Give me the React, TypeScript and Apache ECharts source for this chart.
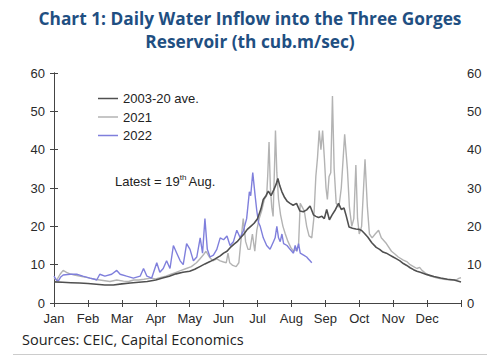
import React, { useEffect, useRef } from "react";
import * as echarts from "echarts";

const monthLabels = ["Jan", "Feb", "Mar", "Apr", "May", "Jun", "Jul", "Aug", "Sep", "Oct", "Nov", "Dec"];
const yTicks = [0, 10, 20, 30, 40, 50, 60];

// x = month position (0 = 1 Jan, 12 = 31 Dec), y = th cub.m/sec
const ave0320: [number, number][] = [
  [0, 5.5], [0.25, 5.4], [0.5, 5.3], [0.75, 5.2], [1.0, 5.1], [1.25, 4.9], [1.5, 4.7], [1.75, 4.7],
  [2.0, 5.0], [2.25, 5.2], [2.5, 5.4], [2.75, 5.6], [3.0, 6.0], [3.2, 6.5], [3.4, 7.0], [3.6, 7.6],
  [3.8, 8.0], [4.0, 8.3], [4.15, 8.8], [4.3, 9.5], [4.45, 10.2], [4.6, 10.8], [4.75, 11.5], [4.9, 12.3],
  [5.0, 13.0], [5.1, 13.5], [5.2, 14.5], [5.3, 15.3], [5.4, 16.0], [5.5, 17.0], [5.6, 18.0], [5.7, 19.2],
  [5.8, 20.0], [5.9, 20.8], [6.0, 22.0], [6.1, 24.5], [6.17, 27.0], [6.25, 28.0], [6.32, 29.2], [6.4, 28.0],
  [6.48, 29.5], [6.55, 31.0], [6.6, 32.5], [6.66, 30.5], [6.72, 29.0], [6.8, 27.5], [6.88, 26.5], [6.96, 26.0],
  [7.05, 25.5], [7.15, 26.0], [7.25, 24.0], [7.35, 23.8], [7.45, 24.3], [7.55, 25.3], [7.65, 23.0], [7.72, 22.6],
  [7.8, 22.3], [7.9, 22.6], [7.97, 22.0], [8.04, 24.4], [8.12, 21.7], [8.2, 23.0], [8.3, 24.4], [8.39, 26.0],
  [8.47, 24.4], [8.55, 24.8], [8.62, 22.6], [8.7, 19.8], [8.8, 19.5], [8.9, 19.3], [9.0, 19.2], [9.07, 18.9],
  [9.15, 18.2], [9.25, 17.2], [9.37, 15.7], [9.5, 14.5], [9.6, 14.0], [9.7, 13.3], [9.8, 13.0], [9.9, 12.5],
  [10.0, 12.0], [10.1, 11.5], [10.2, 11.0], [10.3, 10.3], [10.4, 9.8], [10.5, 9.2], [10.6, 8.7], [10.7, 8.3],
  [10.8, 8.0], [10.9, 7.7], [11.0, 7.4], [11.2, 6.9], [11.4, 6.5], [11.6, 6.2], [11.8, 6.0], [12.0, 5.5],
];

const y2021: [number, number][] = [
  [0, 6.5], [0.08, 6.0], [0.18, 7.5], [0.27, 8.5], [0.37, 8.0], [0.47, 7.6], [0.6, 7.3], [0.75, 7.0],
  [0.9, 6.8], [1.05, 6.5], [1.2, 6.2], [1.35, 6.0], [1.5, 5.8], [1.65, 5.6], [1.85, 6.0], [2.05, 5.7],
  [2.2, 5.6], [2.35, 6.0], [2.5, 6.0], [2.65, 6.2], [2.85, 6.5], [3.0, 6.3], [3.15, 6.7], [3.3, 7.0],
  [3.45, 7.5], [3.6, 8.0], [3.75, 8.5], [3.9, 9.0], [4.05, 9.5], [4.2, 10.5], [4.3, 11.5], [4.4, 12.5],
  [4.48, 13.5], [4.58, 12.0], [4.68, 11.0], [4.8, 11.5], [4.9, 11.0], [5.0, 10.7], [5.08, 10.5], [5.13, 13.0],
  [5.18, 10.5], [5.27, 9.8], [5.37, 9.5], [5.45, 10.5], [5.52, 17.0], [5.58, 22.0], [5.65, 16.0], [5.72, 14.0],
  [5.78, 14.0], [5.85, 18.0], [5.92, 13.5], [5.98, 19.0], [6.05, 22.0], [6.12, 24.0], [6.2, 27.0], [6.27, 28.0],
  [6.3, 33.0], [6.34, 42.0], [6.38, 30.0], [6.42, 25.0], [6.46, 22.6], [6.5, 35.0], [6.53, 45.0], [6.57, 34.0],
  [6.62, 27.0], [6.68, 23.0], [6.75, 20.0], [6.82, 18.0], [6.9, 16.0], [6.98, 14.5], [7.06, 13.5], [7.15, 14.0],
  [7.21, 15.0], [7.26, 26.0], [7.32, 25.0], [7.38, 24.0], [7.45, 20.0], [7.52, 17.5], [7.6, 17.0], [7.66, 22.0],
  [7.72, 33.0], [7.77, 38.0], [7.82, 45.0], [7.87, 40.0], [7.92, 45.0], [7.97, 38.0], [8.02, 30.0], [8.06, 27.0],
  [8.11, 33.0], [8.16, 34.0], [8.21, 54.0], [8.26, 35.0], [8.32, 26.0], [8.4, 25.0], [8.47, 30.0], [8.57, 44.0],
  [8.65, 35.0], [8.71, 25.0], [8.78, 20.0], [8.84, 22.0], [8.9, 36.0], [8.95, 22.0], [9.0, 18.0], [9.07, 20.0],
  [9.17, 37.5], [9.24, 25.0], [9.3, 18.0], [9.38, 17.0], [9.47, 18.0], [9.57, 19.0], [9.65, 17.0], [9.8, 15.5],
  [9.95, 13.5], [10.05, 12.8], [10.15, 12.0], [10.3, 11.2], [10.4, 10.8], [10.5, 10.0], [10.6, 9.5], [10.7, 9.0],
  [10.78, 9.3], [10.85, 8.5], [10.95, 7.8], [11.1, 7.0], [11.3, 6.5], [11.5, 6.2], [11.7, 6.0], [11.85, 6.0],
  [11.95, 6.5], [12.0, 6.6],
];

const y2022: [number, number][] = [
  [0, 7.0], [0.07, 6.0], [0.13, 5.8], [0.2, 6.8], [0.27, 7.3], [0.47, 7.5], [0.67, 7.5], [0.85, 7.0],
  [1.06, 6.5], [1.2, 6.2], [1.26, 6.0], [1.35, 7.5], [1.5, 7.0], [1.7, 7.5], [1.85, 8.5], [1.95, 7.5],
  [2.14, 7.0], [2.34, 6.5], [2.54, 7.0], [2.64, 9.0], [2.74, 7.0], [2.88, 6.5], [3.03, 10.5], [3.12, 8.0],
  [3.22, 9.0], [3.32, 11.0], [3.42, 9.0], [3.52, 15.0], [3.62, 13.0], [3.72, 11.0], [3.81, 10.0], [3.91, 15.5],
  [4.01, 14.0], [4.11, 11.0], [4.21, 12.0], [4.31, 17.0], [4.38, 13.0], [4.45, 22.0], [4.52, 14.0], [4.6, 12.0],
  [4.7, 12.5], [4.8, 14.0], [4.9, 17.0], [5.0, 16.5], [5.1, 17.5], [5.19, 15.0], [5.29, 16.0], [5.39, 19.0],
  [5.49, 17.0], [5.59, 19.0], [5.68, 22.0], [5.76, 29.0], [5.8, 28.0], [5.86, 34.0], [5.93, 28.0], [5.98, 24.0],
  [6.03, 21.0], [6.08, 20.0], [6.17, 17.0], [6.27, 15.0], [6.37, 14.0], [6.47, 16.0], [6.52, 17.0], [6.57, 20.0],
  [6.62, 17.0], [6.67, 16.0], [6.72, 18.0], [6.77, 15.5], [6.87, 15.0], [6.96, 14.0], [7.06, 13.0], [7.11, 15.0],
  [7.16, 13.5], [7.21, 15.5], [7.26, 13.0], [7.36, 12.5], [7.45, 12.0], [7.5, 11.5], [7.55, 11.0], [7.6, 10.5],
];

const seriesNames = ["2003-20 ave.", "2021", "2022"];
const seriesColors = ["#505050", "#b3b3b3", "#7f7fdc"];

export default function App() {
  const ref = useRef<HTMLDivElement>(null);
  useEffect(() => {
    if (!ref.current) return;
    const chart = echarts.init(ref.current, undefined, { renderer: "svg" });
    const axisColor = "#444";
    const labelStyle = { color: "#2a2a2a", fontFamily: "Liberation Sans, Arial, sans-serif", fontSize: 13 };
    const datasets = [ave0320, y2021, y2022];
    chart.setOption({
      animation: false,
      backgroundColor: "#ffffff",
      title: {
        text: "Chart 1: Daily Water Inflow into the Three Gorges\nReservoir (th cub.m/sec)",
        left: "center",
        top: 2,
        textStyle: {
          color: "#1f4f82",
          fontFamily: "Open Sans, sans-serif",
          fontWeight: "bold",
          fontSize: 17.3,
          lineHeight: 23,
          align: "center",
        },
      },
      legend: {
        orient: "vertical",
        left: 93,
        top: 87,
        itemWidth: 20,
        itemHeight: 1.5,
        itemGap: 5.5,
        icon: "rect",
        data: seriesNames,
        textStyle: { ...labelStyle, lineHeight: 13, color: "#222" },
      },
      grid: { left: 54, right: 39, top: 73, bottom: 57, containLabel: false },
      xAxis: [
        {
          type: "value",
          min: 0,
          max: 12,
          interval: 1,
          position: "bottom",
          splitLine: { show: false },
          axisLine: { show: true, lineStyle: { color: axisColor, width: 1 } },
          axisTick: { show: true, length: 4, lineStyle: { color: axisColor } },
          axisLabel: {
            ...labelStyle,
            margin: 9,
            formatter: (v: number) => (v >= 0 && v < 12 ? monthLabels[Math.round(v)] : ""),
          },
        },
        {
          type: "value",
          min: 0,
          max: 12,
          interval: 1,
          position: "bottom",
          splitLine: { show: false },
          axisLine: { show: false },
          axisTick: { show: true, inside: true, length: 3, lineStyle: { color: axisColor } },
          axisLabel: { show: false },
        },
      ],
      yAxis: [
        {
          type: "value",
          min: yTicks[0],
          max: yTicks[yTicks.length - 1],
          interval: 10,
          position: "left",
          splitLine: { show: false },
          axisLine: { show: true, lineStyle: { color: axisColor, width: 1 } },
          axisTick: { show: true, length: 4, lineStyle: { color: axisColor } },
          axisLabel: { ...labelStyle, margin: 9 },
        },
        {
          type: "value",
          min: yTicks[0],
          max: yTicks[yTicks.length - 1],
          interval: 10,
          position: "right",
          splitLine: { show: false },
          axisLine: { show: true, lineStyle: { color: axisColor, width: 1 } },
          axisTick: { show: true, length: 4, lineStyle: { color: axisColor } },
          axisLabel: { ...labelStyle, margin: 6 },
        },
      ],
      series: seriesNames.map((name, i) => ({
        name,
        type: "line",
        xAxisIndex: 0,
        yAxisIndex: 0,
        data: datasets[i],
        showSymbol: false,
        symbol: "none",
        z: i === 0 ? 5 : i === 1 ? 3 : 4,
        color: seriesColors[i],
        lineStyle: { color: seriesColors[i], width: i === 0 ? 1.6 : 1.4 },
      })),
      graphic: [
        {
          type: "text",
          left: 115,
          top: 173,
          style: {
            text: "{a|Latest = 19}{s|th }{a|Aug.}",
            rich: {
              a: { fontFamily: "Liberation Sans, Arial, sans-serif", fontSize: 13, fill: "#222", lineHeight: 16 },
              s: { fontFamily: "Liberation Sans, Arial, sans-serif", fontSize: 8, fill: "#222", verticalAlign: "top", lineHeight: 16 },
            },
          },
        },
        {
          type: "text",
          left: 22,
          top: 332,
          style: {
            text: "Sources: CEIC, Capital Economics",
            fontFamily: "Open Sans, sans-serif",
            fontSize: 14.5,
            fill: "#222",
          },
        },
        {
          type: "line",
          shape: { x1: 13, y1: 354.5, x2: 487, y2: 354.5 },
          style: { stroke: "#cccccc", lineWidth: 1 },
        },
      ],
    });
    return () => chart.dispose();
  }, []);
  return (
    <div
      ref={ref}
      style={{ position: "fixed", left: 0, top: 0, width: 500, height: 360, background: "#fff" }}
    />
  );
}
